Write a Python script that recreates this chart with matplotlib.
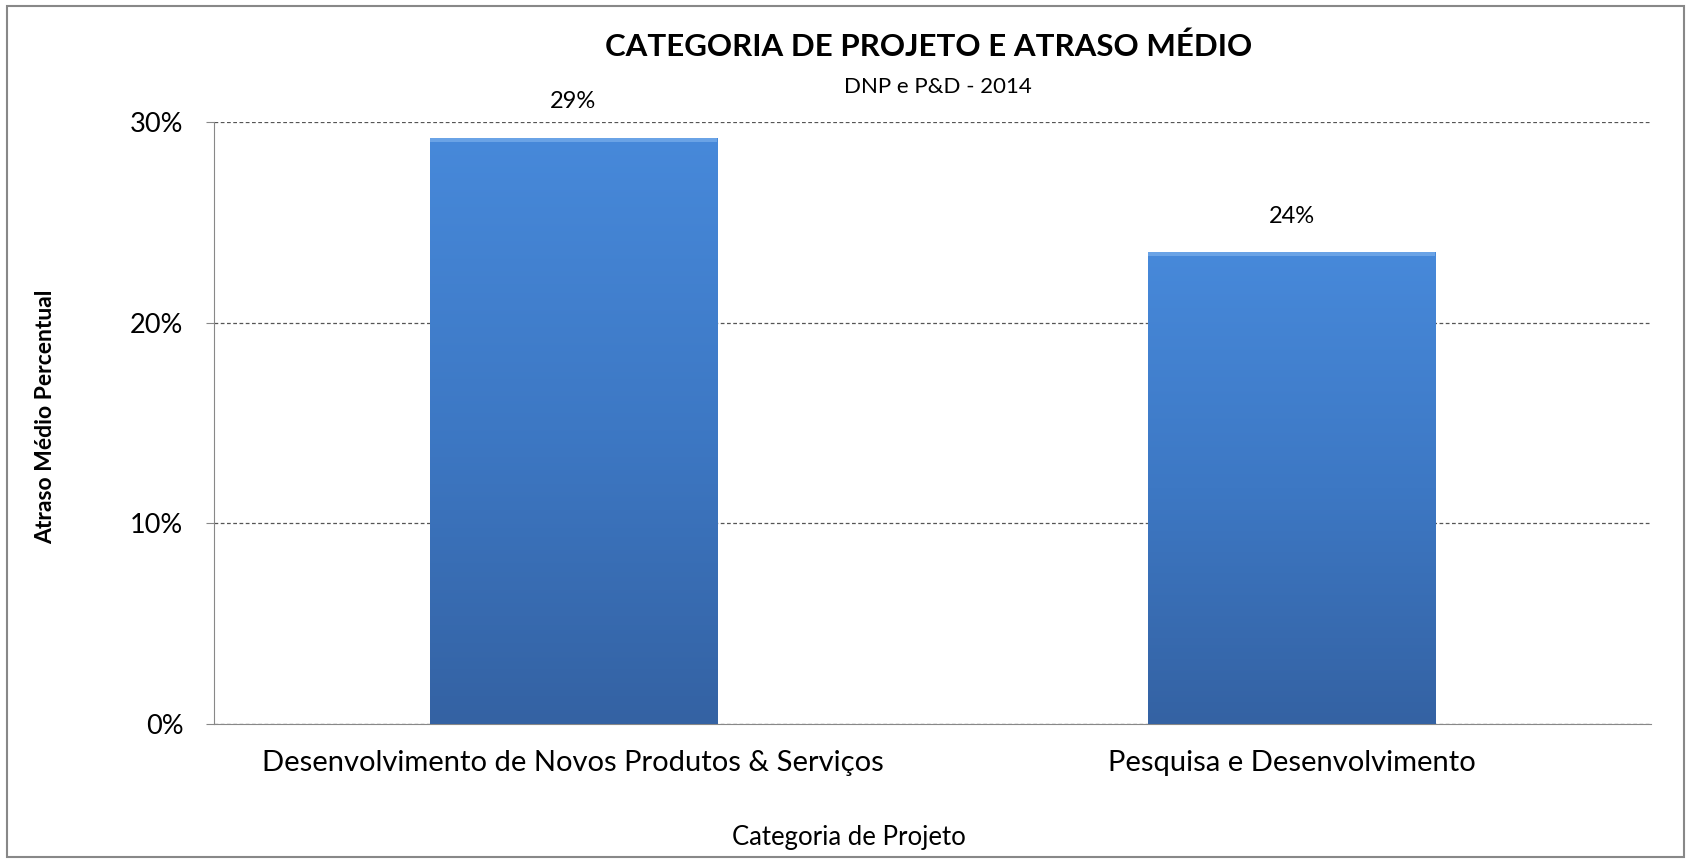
import numpy as np
import matplotlib
matplotlib.use("Agg")
import matplotlib.pyplot as plt
from matplotlib.ticker import PercentFormatter
from matplotlib.patches import Rectangle
from matplotlib.colors import LinearSegmentedColormap

# data
categorias = ["Desenvolvimento de Novos Produtos & Serviços", "Pesquisa e Desenvolvimento"]
atraso = [0.292, 0.235]
rotulos = ["29%", "24%"]

plt.rcParams['font.family'] = ['Lato', 'DejaVu Sans']

fig = plt.figure(figsize=(16.86, 8.59), dpi=100)
ax = fig.add_axes([0.1269, 0.1571, 0.9792 - 0.1269, 0.858 - 0.1571])

x = np.arange(len(categorias))
bars = ax.bar(x, atraso, width=0.4, color='none', zorder=3)

# vertical gradient like the excel bars
cmap = LinearSegmentedColormap.from_list('barra', ['#3462a3', '#3d78c4', '#4789da'])
grad = np.linspace(0, 1, 256).reshape(-1, 1)
for b in bars:
    x0, y0 = b.get_x(), b.get_y()
    w, h = b.get_width(), b.get_height()
    im = ax.imshow(grad, cmap=cmap, aspect='auto', origin='lower',
                   extent=(x0, x0 + w, y0, y0 + h), zorder=3)
    im.set_clip_path(b)
    # lighter bevel on top
    ax.add_patch(Rectangle((x0, y0 + h - 0.002), w, 0.002, color='#6aa3e6', lw=0, zorder=4))

for xi, v, t in zip(x, atraso, rotulos):
    ax.annotate(t, (xi, v), xytext=(0, 26), textcoords='offset points',
                ha='center', va='center', fontsize=17, color='#000000')

ax.set_xlim(-0.5, 1.5)
ax.set_ylim(0, 0.30)
ax.set_yticks([0, 0.1, 0.2, 0.3])
ax.yaxis.set_major_formatter(PercentFormatter(1.0, decimals=0))
ax.set_xticks(x)
ax.set_xticklabels(categorias)

ax.grid(axis='y', linestyle=(0, (3, 2)), color='#555555', linewidth=0.9, zorder=0)
ax.set_axisbelow(True)
for s in ['top', 'right']:
    ax.spines[s].set_visible(False)
ax.spines['left'].set_color('#888888')
ax.spines['bottom'].set_color('#888888')
ax.tick_params(axis='y', length=6, color='#888888', labelsize=19.5, pad=16)
ax.tick_params(axis='x', length=0, labelsize=21, pad=19)

ax.set_xlabel("Categoria de Projeto", fontsize=18.5, va='center')
ax.xaxis.set_label_coords(0.442, -0.188)
ax.set_ylabel("Atraso Médio Percentual", fontsize=16.5, fontweight='bold', va='center')
ax.yaxis.set_label_coords(-0.117, 0.51)

fig.text(0.551, 0.946, "CATEGORIA DE PROJETO E ATRASO MÉDIO", ha='center', va='center',
         fontsize=22.5, fontweight='bold')
fig.text(0.556, 0.899, "DNP e P&D - 2014", ha='center', va='center', fontsize=16)

# border around the whole chart
fig.patches.append(Rectangle((0.004, 0.002), 0.995, 0.991, transform=fig.transFigure,
                             fill=False, edgecolor='#888888', linewidth=1.5))

fig.savefig("out.png", dpi=100)
